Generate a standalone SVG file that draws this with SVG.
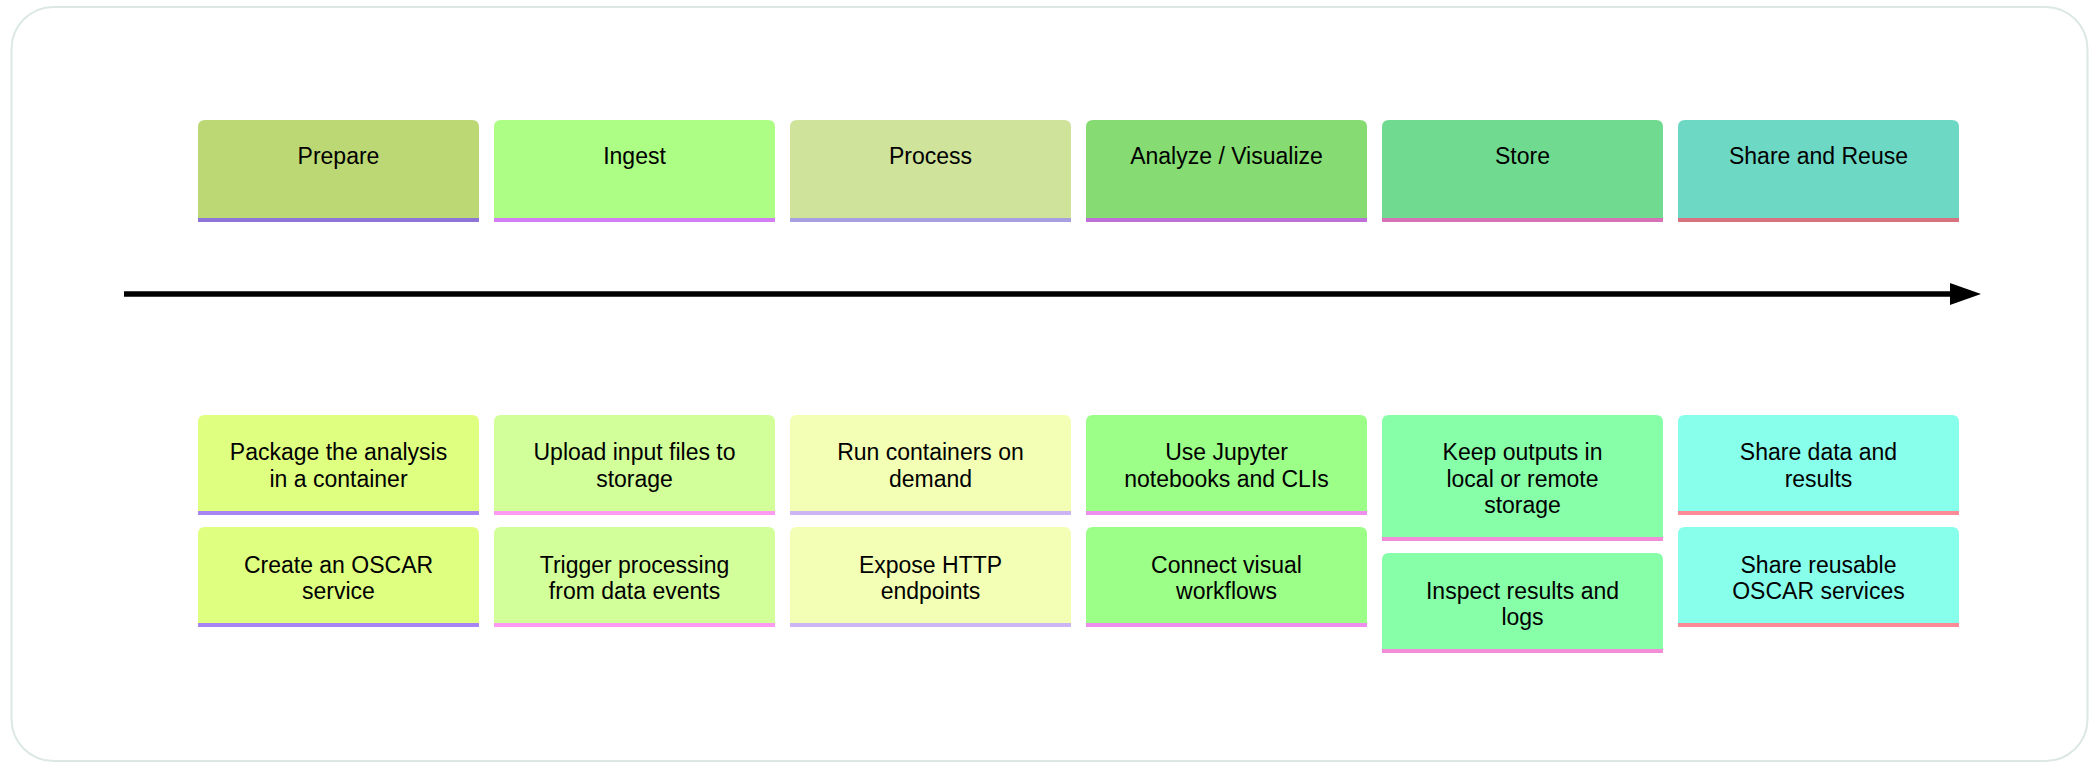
<svg xmlns="http://www.w3.org/2000/svg" width="2089" height="762" viewBox="0 0 2089 762">
<style>
text{font-family:"Liberation Sans",Arial,sans-serif;font-size:23px;fill:#000;text-anchor:middle}
.frame{fill:#fff;stroke:#dce8e4;stroke-width:2}
.conn{stroke:#000;stroke-width:5.5;fill:none}
</style>
<defs>
<marker id="ah" markerWidth="31" markerHeight="22" refX="0" refY="11" orient="auto" markerUnits="userSpaceOnUse">
<path d="M0,0 L31,11 L0,22 Z" fill="#000"/>
</marker>
</defs>
<rect class="frame" x="11.5" y="7" width="2076" height="754" rx="42"/>
<g id="connectors">
<line class="conn" x1="124" y1="294" x2="1950" y2="294" marker-end="url(#ah)"/>
</g>
<!-- headers -->
<g id="h-prepare"><path d="M198,218V127Q198,120 205,120H472Q479,120 479,127V218Z" fill="#bcd874"/><rect x="198" y="218" width="281" height="4" fill="#8e74d6"/><text x="338.5" y="164">Prepare</text></g>
<g id="h-ingest"><path d="M494,218V127Q494,120 501,120H768Q775,120 775,127V218Z" fill="#adfe84"/><rect x="494" y="218" width="281" height="4" fill="#d17ff2"/><text x="634.5" y="164">Ingest</text></g>
<g id="h-process"><path d="M790,218V127Q790,120 797,120H1064Q1071,120 1071,127V218Z" fill="#cfe39b"/><rect x="790" y="218" width="281" height="4" fill="#a89fe0"/><text x="930.5" y="164">Process</text></g>
<g id="h-analyze"><path d="M1086,218V127Q1086,120 1093,120H1360Q1367,120 1367,127V218Z" fill="#86dc72"/><rect x="1086" y="218" width="281" height="4" fill="#be6fd8"/><text x="1226.5" y="164">Analyze / Visualize</text></g>
<g id="h-store"><path d="M1382,218V127Q1382,120 1389,120H1656Q1663,120 1663,127V218Z" fill="#6fda90"/><rect x="1382" y="218" width="281" height="4" fill="#d872b6"/><text x="1522.5" y="164">Store</text></g>
<g id="h-share"><path d="M1678,218V127Q1678,120 1685,120H1952Q1959,120 1959,127V218Z" fill="#6dd9c5"/><rect x="1678" y="218" width="281" height="4" fill="#d87281"/><text x="1818.5" y="164">Share and Reuse</text></g>
<!-- tasks row 1 -->
<g id="t-package"><path d="M198,511V422Q198,415 205,415H472Q479,415 479,422V511Z" fill="#deff80"/><rect x="198" y="511" width="281" height="4" fill="#a884f5"/><text x="338.5" y="460">Package the analysis</text><text x="338.5" y="486.5">in a container</text></g>
<g id="t-upload"><path d="M494,511V422Q494,415 501,415H768Q775,415 775,422V511Z" fill="#d2ff9a"/><rect x="494" y="511" width="281" height="4" fill="#ff9af2"/><text x="634.5" y="460">Upload input files to</text><text x="634.5" y="486.5">storage</text></g>
<g id="t-run"><path d="M790,511V422Q790,415 797,415H1064Q1071,415 1071,422V511Z" fill="#f2ffb5"/><rect x="790" y="511" width="281" height="4" fill="#cdb5f5"/><text x="930.5" y="460">Run containers on</text><text x="930.5" y="486.5">demand</text></g>
<g id="t-jupyter"><path d="M1086,511V422Q1086,415 1093,415H1360Q1367,415 1367,422V511Z" fill="#9cff88"/><rect x="1086" y="511" width="281" height="4" fill="#ee8ff0"/><text x="1226.5" y="460">Use Jupyter</text><text x="1226.5" y="486.5">notebooks and CLIs</text></g>
<g id="t-keep"><path d="M1382,537V422Q1382,415 1389,415H1656Q1663,415 1663,422V537Z" fill="#87ffa9"/><rect x="1382" y="537" width="281" height="4" fill="#f28ed8"/><text x="1522.5" y="460">Keep outputs in</text><text x="1522.5" y="486.5">local or remote</text><text x="1522.5" y="513">storage</text></g>
<g id="t-sharedata"><path d="M1678,511V422Q1678,415 1685,415H1952Q1959,415 1959,422V511Z" fill="#88ffea"/><rect x="1678" y="511" width="281" height="4" fill="#ff8b99"/><text x="1818.5" y="460">Share data and</text><text x="1818.5" y="486.5">results</text></g>
<!-- tasks row 2 -->
<g id="t-create"><path d="M198,623V534Q198,527 205,527H472Q479,527 479,534V623Z" fill="#deff80"/><rect x="198" y="623" width="281" height="4" fill="#a884f5"/><text x="338.5" y="572.5">Create an OSCAR</text><text x="338.5" y="598.5">service</text></g>
<g id="t-trigger"><path d="M494,623V534Q494,527 501,527H768Q775,527 775,534V623Z" fill="#d2ff9a"/><rect x="494" y="623" width="281" height="4" fill="#ff9af2"/><text x="634.5" y="572.5">Trigger processing</text><text x="634.5" y="598.5">from data events</text></g>
<g id="t-expose"><path d="M790,623V534Q790,527 797,527H1064Q1071,527 1071,534V623Z" fill="#f2ffb5"/><rect x="790" y="623" width="281" height="4" fill="#cdb5f5"/><text x="930.5" y="572.5">Expose HTTP</text><text x="930.5" y="598.5">endpoints</text></g>
<g id="t-connect"><path d="M1086,623V534Q1086,527 1093,527H1360Q1367,527 1367,534V623Z" fill="#9cff88"/><rect x="1086" y="623" width="281" height="4" fill="#ee8ff0"/><text x="1226.5" y="572.5">Connect visual</text><text x="1226.5" y="598.5">workflows</text></g>
<g id="t-inspect"><path d="M1382,649V560Q1382,553 1389,553H1656Q1663,553 1663,560V649Z" fill="#87ffa9"/><rect x="1382" y="649" width="281" height="4" fill="#f28ed8"/><text x="1522.5" y="598.5">Inspect results and</text><text x="1522.5" y="625">logs</text></g>
<g id="t-sharesvc"><path d="M1678,623V534Q1678,527 1685,527H1952Q1959,527 1959,534V623Z" fill="#88ffea"/><rect x="1678" y="623" width="281" height="4" fill="#ff8b99"/><text x="1818.5" y="572.5">Share reusable</text><text x="1818.5" y="598.5">OSCAR services</text></g>
</svg>
